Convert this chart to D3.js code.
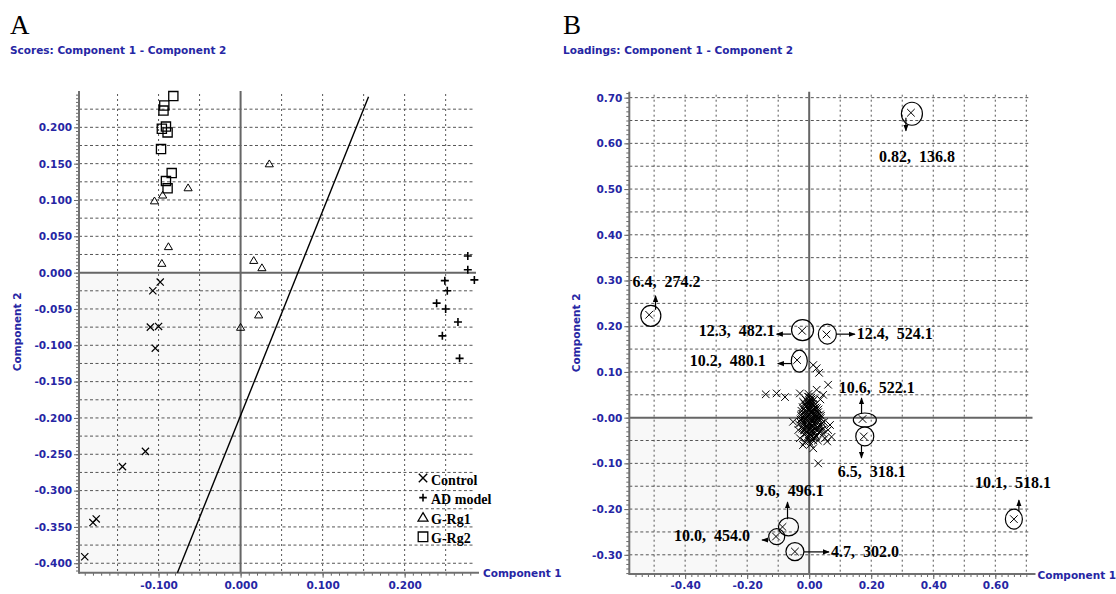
<!DOCTYPE html>
<html>
<head>
<meta charset="utf-8">
<script src="https://cdn.jsdelivr.net/npm/d3@7"></script>
<style>
  body { margin: 0; background: #fff; }
  svg { display: block; }
  .blue { fill: #2626a4; font-family: "DejaVu Sans", sans-serif; font-weight: bold; font-size: 10.5px; }
  .panel-letter { font-family: "Liberation Serif", serif; font-size: 27px; fill: #000; }
  .callout { font-family: "Liberation Serif", serif; font-weight: bold; font-size: 16px; white-space: pre; fill: #000; }
  .legend { font-family: "Liberation Serif", serif; font-weight: bold; font-size: 14px; fill: #000; }
</style>
</head>
<body>
<svg id="chart" width="1116" height="594"></svg>
<script>
// ---- Panel A: scores ----
const controlScores = [[-0.098, -0.013], [-0.107, -0.025], [-0.110, -0.075], [-0.100, -0.074], [-0.104, -0.104],
  [-0.116, -0.246], [-0.144, -0.267], [-0.176, -0.339], [-0.180, -0.344], [-0.190, -0.391]];
const adModelScores = [[0.277, 0.023], [0.277, 0.004], [0.285, -0.010], [0.249, -0.011], [0.252, -0.025],
  [0.239, -0.042], [0.250, -0.050], [0.265, -0.068], [0.246, -0.087], [0.267, -0.118]];
const rg1Scores = [[0.035, 0.150], [-0.064, 0.117], [-0.095, 0.107], [-0.105, 0.099], [-0.088, 0.036],
  [-0.096, 0.013], [0.016, 0.017], [0.026, 0.007], [0.000, -0.075], [0.022, -0.058]];
const rg2Scores = [[-0.082, 0.243], [-0.093, 0.230], [-0.094, 0.223], [-0.091, 0.201], [-0.096, 0.198],
  [-0.089, 0.193], [-0.097, 0.170], [-0.084, 0.137], [-0.091, 0.126], [-0.089, 0.116]];
const separationLine = [[-0.077, -0.413], [0.156, 0.242]];
const legendNames = ['Control', 'AD model', 'G-Rg1', 'G-Rg2'];

const scoreXTicks = [-0.1, 0, 0.1, 0.2];
const scoreXLabels = ['-0.100', '0.000', '0.100', '0.200'];
const scoreYTicks = [-0.4, -0.35, -0.3, -0.25, -0.2, -0.15, -0.1, -0.05, 0, 0.05, 0.1, 0.15, 0.2];
const scoreYLabels = ['-0.400', '-0.350', '-0.300', '-0.250', '-0.200', '-0.150', '-0.100', '-0.050',
  '0.000', '0.050', '0.100', '0.150', '0.200'];

// ---- Panel B: loadings ----
const loadings = [
  [0.013, 0.115], [0.024, 0.108], [0.032, 0.098], [0.061, 0.072], [0.024, 0.061], [-0.140, 0.051],
  [-0.105, 0.053], [-0.078, 0.045], [-0.030, 0.053], [0.045, 0.050], [0.036, 0.040],
  [-0.014, -0.053], [0.013, -0.067], [0.029, -0.100], [0.061, -0.027], [0.072, -0.042], [0.051, -0.045],
  [0.067, -0.016], [-0.052, -0.009], [-0.035, -0.027], [0.045, -0.035], [0.058, -0.052], [-0.030, -0.045],
  [-0.020, -0.060],
  [0.000, 0.045], [0.008, 0.040], [-0.006, 0.035], [0.012, 0.030], [-0.012, 0.028], [0.004, 0.026],
  [0.020, 0.022], [-0.018, 0.018], [0.000, 0.018], [0.010, 0.015], [-0.008, 0.012], [0.024, 0.010],
  [-0.024, 0.008], [0.004, 0.008], [0.015, 0.004], [-0.014, 0.002], [0.000, 0.000], [0.030, -0.002],
  [-0.028, -0.004], [0.008, -0.005], [-0.006, -0.008], [0.020, -0.010], [-0.018, -0.012], [0.002, -0.014],
  [0.012, -0.018], [-0.010, -0.020], [0.026, -0.020], [-0.022, -0.024], [0.004, -0.025], [0.016, -0.030],
  [-0.008, -0.032], [0.034, -0.030], [-0.016, -0.036], [0.006, -0.038], [0.022, -0.040], [-0.004, -0.044],
  [0.010, -0.048], [0.040, -0.020], [-0.034, -0.014], [0.038, 0.004], [0.030, 0.018], [-0.020, 0.035],
  [0.016, 0.040], [-0.002, 0.052], [0.005, -0.058], [0.028, -0.050], [0.048, -0.010], [0.044, -0.026],
  [0.002, 0.034], [-0.010, 0.024], [0.014, 0.020], [0.006, 0.012], [-0.004, 0.004], [0.018, -0.002],
  [-0.012, -0.004], [0.010, -0.010], [-0.002, -0.018], [0.020, -0.024], [-0.014, -0.028], [0.008, -0.030],
  [0.000, -0.036], [0.014, -0.044], [-0.020, 0.000], [0.026, 0.004],
  [-0.004, 0.046], [0.007, 0.044], [-0.011, 0.039], [0.001, 0.037], [0.011, 0.036],
  [-0.016, 0.031], [-0.003, 0.029], [0.007, 0.031], [0.019, 0.029], [-0.021, 0.023], [-0.007, 0.021],
  [0.003, 0.022], [0.013, 0.024], [0.025, 0.021], [-0.025, 0.015], [-0.012, 0.013], [-0.001, 0.015],
  [0.009, 0.013], [0.019, 0.016], [0.029, 0.012], [-0.027, 0.005], [-0.015, 0.007], [-0.005, 0.005],
  [0.005, 0.003], [0.013, 0.008], [0.023, 0.005], [0.035, 0.007], [-0.023, -0.003], [-0.009, -0.001],
  [0.005, -0.002], [0.015, -0.004], [0.025, -0.003], [0.037, -0.001], [-0.027, -0.011], [-0.013, -0.009],
  [0.001, -0.011], [0.015, -0.012], [0.029, -0.010], [0.041, -0.012], [-0.021, -0.019], [-0.009, -0.017],
  [0.007, -0.019], [0.019, -0.017], [0.033, -0.019], [-0.017, -0.027], [-0.003, -0.025], [0.011, -0.027],
  [0.027, -0.025], [0.039, -0.027], [-0.011, -0.035], [0.003, -0.033], [0.017, -0.035], [0.031, -0.033],
  [-0.007, -0.043], [0.007, -0.041], [0.021, -0.043], [-0.001, -0.051], [0.013, -0.049]
];
// marked ions: retention time (min), m/z
const markedIons = [
  { label: '0.82,  136.8', pc1: 0.328, pc2: 0.667 },
  { label: '6.4,  274.2', pc1: -0.516, pc2: 0.225 },
  { label: '12.3,  482.1', pc1: -0.023, pc2: 0.190 },
  { label: '12.4,  524.1', pc1: 0.056, pc2: 0.182 },
  { label: '10.2,  480.1', pc1: -0.039, pc2: 0.126 },
  { label: '10.6,  522.1', pc1: 0.172, pc2: -0.003 },
  { label: '6.5,  318.1', pc1: 0.176, pc2: -0.041 },
  { label: '10.1,  518.1', pc1: 0.660, pc2: -0.222 },
  { label: '9.6,  496.1', pc1: -0.086, pc2: -0.239 },
  { label: '10.0,  454.0', pc1: -0.107, pc2: -0.260 },
  { label: '4.7,  302.0', pc1: -0.046, pc2: -0.293 }
];
// pixel offsets of circle, arrow and label from each marked ion
const calloutLayout = [
  { ex: 1, ey: 1, rx: 10.5, ry: 11.5, a: [-5, 5, -5, 18], lx: -32, ly: 49, anchor: 'start' },
  { ex: 1.7, ey: 1, rx: 10, ry: 10.5, a: [6.4, -5, 6.4, -19], lx: -16.6, ly: -28, anchor: 'start' },
  { ex: 0.5, ey: -0.7, rx: 11, ry: 10.5, a: [-10.8, 3.3, -25.3, 3.3], lx: -27.3, ly: 5.3, anchor: 'end' },
  { ex: 0.8, ey: -0.3, rx: 9, ry: 10, a: [9.8, -0.3, 28.3, -0.3], lx: 30.3, ly: 4.7, anchor: 'start' },
  { ex: 2.2, ey: 1, rx: 8, ry: 11, a: [-5.8, 3.5, -19.3, 3.5], lx: -31.3, ly: 6, anchor: 'end' },
  { ex: 2.3, ey: 1, rx: 11.5, ry: 7, a: [-1, -5, -1, -21], lx: -23.7, ly: -26, anchor: 'start' },
  { ex: 1, ey: 0, rx: 9, ry: 9.5, a: [-2.3, 8.5, -2.3, 21.5], lx: -26, ly: 40.5, anchor: 'start' },
  { ex: 0, ey: 0, rx: 8.5, ry: 10, a: [5, -8, 5, -19], lx: -39, ly: -31, anchor: 'start' },
  { ex: 6, ey: 0, rx: 10, ry: 9, a: [5, -7.7, 5, -24.7], lx: -26.7, ly: -30.7, anchor: 'start' },
  { ex: 0.7, ey: 0.2, rx: 8, ry: 8, a: [-7.5, 3.5, -14, 3.5], lx: -26, ly: 4.5, anchor: 'end' },
  { ex: 0, ey: 0, rx: 9, ry: 9, a: [9, 0.3, 34, 0.3], lx: 36, ly: 5.3, anchor: 'start' }
];

const loadXTicks = [-0.4, -0.2, 0, 0.2, 0.4, 0.6];
const loadXLabels = ['-0.40', '-0.20', '0.00', '0.20', '0.40', '0.60'];
const loadYTicks = [-0.3, -0.2, -0.1, 0, 0.1, 0.2, 0.3, 0.4, 0.5, 0.6, 0.7];
const loadYLabels = ['-0.30', '-0.20', '-0.10', '-0.00', '0.10', '0.20', '0.30', '0.40', '0.50', '0.60', '0.70'];

const svg = d3.select('#chart');

svg.append('defs').append('marker')
  .attr('id', 'arrow')
  .attr('viewBox', '0 -4 8 8')
  .attr('refX', 7).attr('refY', 0)
  .attr('markerUnits', 'userSpaceOnUse')
  .attr('markerWidth', 7).attr('markerHeight', 7)
  .attr('orient', 'auto')
  .append('path').attr('d', 'M0,-3L8,0L0,3Z').attr('fill', '#000');

function symbolPath(type, s) {
  if (type === 'cross') return `M${-s},${-s}L${s},${s}M${-s},${s}L${s},${-s}`;
  if (type === 'plus') return `M${-s},0H${s}M0,${-s}V${s}`;
  if (type === 'triangle') return `M0,${-s}L${s * 1.1},${s * 0.85}L${-s * 1.1},${s * 0.85}Z`;
  return `M${-s},${-s}H${s}V${s}H${-s}Z`;
}

function drawFrame(o) {
  const { x, y } = o;
  const g = svg.append('g');
  const [xl, xr] = x.range();
  const [yb, yt] = y.range();

  g.append('rect')
    .attr('x', xl).attr('y', y(0))
    .attr('width', x(0) - xl).attr('height', yb - y(0))
    .attr('fill', '#f8f8f8');

  g.selectAll('.hgrid').data(o.hGrid).join('line')
    .attr('x1', xl).attr('x2', xr - 2)
    .attr('y1', d => y(d)).attr('y2', d => y(d))
    .attr('stroke', '#555').attr('stroke-width', 1).attr('stroke-dasharray', '3,2.5');
  g.selectAll('.vgrid').data(o.vGrid).join('line')
    .attr('x1', d => x(d)).attr('x2', d => x(d))
    .attr('y1', yt + 3).attr('y2', yb)
    .attr('stroke', '#555').attr('stroke-width', 1).attr('stroke-dasharray', '2,3');

  // zero lines
  g.append('line').attr('x1', xl).attr('x2', xr).attr('y1', y(0)).attr('y2', y(0))
    .attr('stroke', '#666').attr('stroke-width', 2);
  g.append('line').attr('x1', x(0)).attr('x2', x(0)).attr('y1', yt).attr('y2', yb)
    .attr('stroke', '#666').attr('stroke-width', 2);

  const minorX = g.append('g').attr('transform', `translate(0,${yb})`)
    .call(d3.axisBottom(x).tickValues(o.xMinor).tickSize(3).tickFormat(''));
  const majorX = g.append('g').attr('transform', `translate(0,${yb})`)
    .call(d3.axisBottom(x).tickValues(o.xTicks).tickSize(5).tickPadding(o.xPad)
      .tickFormat((d, i) => o.xLabels[i]));
  const minorY = g.append('g').attr('transform', `translate(${xl},0)`)
    .call(d3.axisLeft(y).tickValues(o.yMinor).tickSize(3).tickFormat(''));
  const majorY = g.append('g').attr('transform', `translate(${xl},0)`)
    .call(d3.axisLeft(y).tickValues(o.yTicks).tickSize(5).tickPadding(2)
      .tickFormat((d, i) => o.yLabels[i]));

  [minorX, majorX, minorY, majorY].forEach(a => {
    a.select('.domain').remove();
    a.selectAll('line').attr('stroke', '#666');
    a.selectAll('text').attr('class', 'blue').attr('fill', null)
      .attr('font-family', null).attr('font-size', null);
  });

  g.append('line').attr('x1', xl).attr('x2', xr + 3).attr('y1', yb).attr('y2', yb)
    .attr('stroke', '#707070').attr('stroke-width', 2);
  g.append('line').attr('x1', xl).attr('x2', xl).attr('y1', yt).attr('y2', yb + 1)
    .attr('stroke', '#707070').attr('stroke-width', 2);

  svg.append('text').attr('class', 'panel-letter').attr('x', o.letterX).attr('y', 34).text(o.letter);
  svg.append('text').attr('class', 'blue').attr('x', o.letterX).attr('y', 53.5).text(o.title);
  svg.append('text').attr('class', 'blue').attr('x', xr + o.xLabelGap).attr('y', yb + 4.5).text('Component 1');
  svg.append('text').attr('class', 'blue')
    .attr('transform', `translate(${o.yLabelX},${(yt + yb) / 2})rotate(-90)`)
    .attr('text-anchor', 'middle').text('Component 2');
  return g;
}

// ---------- Panel A ----------
const xA = d3.scaleLinear().domain([-0.197, 0.287]).range([79, 476]);
const yA = d3.scaleLinear().domain([-0.413, 0.25]).range([572.7, 91]);

const gA = drawFrame({
  x: xA, y: yA, letter: 'A', letterX: 10, yLabelX: 20.5, xLabelGap: 7,
  title: 'Scores: Component 1 - Component 2',
  hGrid: d3.range(-0.4, 0.24, 0.025).filter(d => Math.abs(d) > 1e-6),
  vGrid: d3.range(-0.15, 0.26, 0.05).filter(d => Math.abs(d) > 1e-6),
  xMinor: d3.range(-0.19, 0.285, 0.01),
  yMinor: d3.range(-0.41, 0.25, 0.005),
  xTicks: scoreXTicks, xLabels: scoreXLabels, xPad: 4,
  yTicks: scoreYTicks, yLabels: scoreYLabels
});

gA.append('line')
  .attr('x1', xA(separationLine[0][0])).attr('y1', yA(separationLine[0][1]))
  .attr('x2', xA(separationLine[1][0])).attr('y2', yA(separationLine[1][1]))
  .attr('stroke', '#000').attr('stroke-width', 1.4);

const scoreGroups = [
  { pts: controlScores, type: 'cross', s: 3.6, w: 1.2 },
  { pts: adModelScores, type: 'plus', s: 4, w: 1.6 },
  { pts: rg1Scores, type: 'triangle', s: 3.7, w: 1 },
  { pts: rg2Scores, type: 'square', s: 4.6, w: 1.3 }
];
scoreGroups.forEach(grp => {
  gA.selectAll(null).data(grp.pts).join('path')
    .attr('transform', d => `translate(${xA(d[0])},${yA(d[1])})`)
    .attr('d', symbolPath(grp.type, grp.s))
    .attr('fill', 'none').attr('stroke', '#000').attr('stroke-width', grp.w);
});

const legendSymbols = [
  { type: 'cross', s: 4.2, w: 1.4 }, { type: 'plus', s: 3.8, w: 1.6 },
  { type: 'triangle', s: 4.5, w: 1.3 }, { type: 'square', s: 4.8, w: 1.3 }
];
const legend = gA.append('g').attr('transform', 'translate(423,478)');
legendNames.forEach((name, i) => {
  const row = legend.append('g').attr('transform', `translate(0,${i * 19.6})`);
  row.append('path').attr('d', symbolPath(legendSymbols[i].type, legendSymbols[i].s))
    .attr('fill', 'none').attr('stroke', '#000').attr('stroke-width', legendSymbols[i].w);
  row.append('text').attr('class', 'legend').attr('x', 8).attr('y', 6.5).text(name);
});

// ---------- Panel B ----------
const xB = d3.scaleLinear().domain([-0.58, 0.72]).range([629.3, 1032.5]);
const yB = d3.scaleLinear().domain([-0.342, 0.713]).range([574, 91.7]);

const gB = drawFrame({
  x: xB, y: yB, letter: 'B', letterX: 563, yLabelX: 580, xLabelGap: 5,
  title: 'Loadings: Component 1 - Component 2',
  hGrid: d3.range(-0.3, 0.71, 0.05).filter(d => Math.abs(d) > 1e-6),
  vGrid: d3.range(-0.5, 0.71, 0.1).filter(d => Math.abs(d) > 1e-6),
  xMinor: d3.range(-0.56, 0.72, 0.02),
  yMinor: d3.range(-0.34, 0.713, 0.01),
  xTicks: loadXTicks, xLabels: loadXLabels, xPad: 3,
  yTicks: loadYTicks, yLabels: loadYLabels
});

gB.selectAll(null).data(loadings.concat(markedIons.map(d => [d.pc1, d.pc2]))).join('path')
  .attr('transform', d => `translate(${xB(d[0])},${yB(d[1])})`)
  .attr('d', symbolPath('cross', 3.8))
  .attr('fill', 'none').attr('stroke', '#000').attr('stroke-width', 1);

markedIons.forEach((ion, i) => {
  const c = calloutLayout[i];
  const px = xB(ion.pc1), py = yB(ion.pc2);
  gB.append('ellipse')
    .attr('cx', px + c.ex).attr('cy', py + c.ey).attr('rx', c.rx).attr('ry', c.ry)
    .attr('fill', 'none').attr('stroke', '#000').attr('stroke-width', 1.2);
  gB.append('line')
    .attr('x1', px + c.a[0]).attr('y1', py + c.a[1])
    .attr('x2', px + c.a[2]).attr('y2', py + c.a[3])
    .attr('stroke', '#000').attr('stroke-width', 1.2)
    .attr('marker-end', 'url(#arrow)');
  gB.append('text').attr('class', 'callout')
    .attr('x', px + c.lx).attr('y', py + c.ly)
    .attr('text-anchor', c.anchor)
    .text(ion.label);
});
</script>
</body>
</html>
